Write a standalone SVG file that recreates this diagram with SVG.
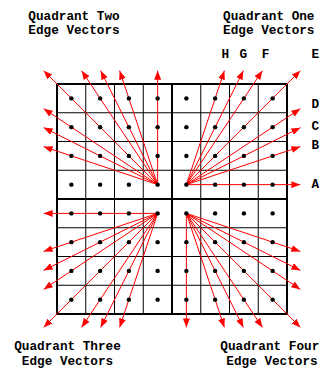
<svg xmlns="http://www.w3.org/2000/svg" width="320" height="370" viewBox="0 0 320 370">
<style>
.thin{stroke:#000;stroke-width:1;fill:none}
.thick{stroke:#000;stroke-width:2;fill:none}
.dot{fill:#000}
.vec{stroke:#ff0000;stroke-width:1;fill:none;marker-end:url(#ah)}
.lbl{font-family:"Liberation Mono","Courier New",monospace;font-weight:bold;font-size:12.7px;fill:#000;text-anchor:middle}
</style>
<defs>
<marker id="ah" markerUnits="userSpaceOnUse" markerWidth="9" markerHeight="7" refX="9" refY="3.5" orient="auto">
<path d="M0,0 L9,3.5 L0,7 z" fill="#ff0000"/>
</marker>
</defs>
<rect width="320" height="370" fill="#fff"/>
<g id="grid">
<path class="thin" d="M85.75,84V314 M114.5,84V314 M143.25,84V314 M200.75,84V314 M229.5,84V314 M258.25,84V314 M57,112.75H287 M57,141.5H287 M57,170.25H287 M57,227.75H287 M57,256.5H287 M57,285.25H287"/>
<path class="thick" d="M172,84V314 M57,199H287"/>
<rect class="thick" x="57" y="84" width="230" height="230"/>
</g>
<g id="connectors">
<g id="q1-vectors">
<line class="vec" x1="186.375" y1="184.625" x2="300.375" y2="184.625"/>
<line class="vec" x1="186.375" y1="184.625" x2="300.375" y2="146.625"/>
<line class="vec" x1="186.375" y1="184.625" x2="300.375" y2="127.625"/>
<line class="vec" x1="186.375" y1="184.625" x2="300.375" y2="108.625"/>
<line class="vec" x1="186.375" y1="184.625" x2="300.375" y2="70.625"/>
<line class="vec" x1="186.375" y1="184.625" x2="262.375" y2="70.625"/>
<line class="vec" x1="186.375" y1="184.625" x2="243.375" y2="70.625"/>
<line class="vec" x1="186.375" y1="184.625" x2="224.375" y2="70.625"/>
</g>
<g id="q2-vectors">
<line class="vec" x1="157.625" y1="184.625" x2="157.625" y2="70.625"/>
<line class="vec" x1="157.625" y1="184.625" x2="119.625" y2="70.625"/>
<line class="vec" x1="157.625" y1="184.625" x2="100.625" y2="70.625"/>
<line class="vec" x1="157.625" y1="184.625" x2="81.625" y2="70.625"/>
<line class="vec" x1="157.625" y1="184.625" x2="43.625" y2="70.625"/>
<line class="vec" x1="157.625" y1="184.625" x2="43.625" y2="108.625"/>
<line class="vec" x1="157.625" y1="184.625" x2="43.625" y2="127.625"/>
<line class="vec" x1="157.625" y1="184.625" x2="43.625" y2="146.625"/>
</g>
<g id="q3-vectors">
<line class="vec" x1="157.625" y1="213.375" x2="43.625" y2="213.375"/>
<line class="vec" x1="157.625" y1="213.375" x2="43.625" y2="251.375"/>
<line class="vec" x1="157.625" y1="213.375" x2="43.625" y2="270.375"/>
<line class="vec" x1="157.625" y1="213.375" x2="43.625" y2="289.375"/>
<line class="vec" x1="157.625" y1="213.375" x2="43.625" y2="327.375"/>
<line class="vec" x1="157.625" y1="213.375" x2="81.625" y2="327.375"/>
<line class="vec" x1="157.625" y1="213.375" x2="100.625" y2="327.375"/>
<line class="vec" x1="157.625" y1="213.375" x2="119.625" y2="327.375"/>
</g>
<g id="q4-vectors">
<line class="vec" x1="186.375" y1="213.375" x2="186.375" y2="327.375"/>
<line class="vec" x1="186.375" y1="213.375" x2="224.375" y2="327.375"/>
<line class="vec" x1="186.375" y1="213.375" x2="243.375" y2="327.375"/>
<line class="vec" x1="186.375" y1="213.375" x2="262.375" y2="327.375"/>
<line class="vec" x1="186.375" y1="213.375" x2="300.375" y2="327.375"/>
<line class="vec" x1="186.375" y1="213.375" x2="300.375" y2="289.375"/>
<line class="vec" x1="186.375" y1="213.375" x2="300.375" y2="270.375"/>
<line class="vec" x1="186.375" y1="213.375" x2="300.375" y2="251.375"/>
</g>
</g>
<g id="dots">
<g id="row1"><circle class="dot" cx="71.375" cy="98.375" r="2.2"/><circle class="dot" cx="100.125" cy="98.375" r="2.2"/><circle class="dot" cx="128.875" cy="98.375" r="2.2"/><circle class="dot" cx="157.625" cy="98.375" r="2.2"/><circle class="dot" cx="186.375" cy="98.375" r="2.2"/><circle class="dot" cx="215.125" cy="98.375" r="2.2"/><circle class="dot" cx="243.875" cy="98.375" r="2.2"/><circle class="dot" cx="272.625" cy="98.375" r="2.2"/></g>
<g id="row2"><circle class="dot" cx="71.375" cy="127.125" r="2.2"/><circle class="dot" cx="100.125" cy="127.125" r="2.2"/><circle class="dot" cx="128.875" cy="127.125" r="2.2"/><circle class="dot" cx="157.625" cy="127.125" r="2.2"/><circle class="dot" cx="186.375" cy="127.125" r="2.2"/><circle class="dot" cx="215.125" cy="127.125" r="2.2"/><circle class="dot" cx="243.875" cy="127.125" r="2.2"/><circle class="dot" cx="272.625" cy="127.125" r="2.2"/></g>
<g id="row3"><circle class="dot" cx="71.375" cy="155.875" r="2.2"/><circle class="dot" cx="100.125" cy="155.875" r="2.2"/><circle class="dot" cx="128.875" cy="155.875" r="2.2"/><circle class="dot" cx="157.625" cy="155.875" r="2.2"/><circle class="dot" cx="186.375" cy="155.875" r="2.2"/><circle class="dot" cx="215.125" cy="155.875" r="2.2"/><circle class="dot" cx="243.875" cy="155.875" r="2.2"/><circle class="dot" cx="272.625" cy="155.875" r="2.2"/></g>
<g id="row4"><circle class="dot" cx="71.375" cy="184.625" r="2.2"/><circle class="dot" cx="100.125" cy="184.625" r="2.2"/><circle class="dot" cx="128.875" cy="184.625" r="2.2"/><circle class="dot" cx="157.625" cy="184.625" r="2.2"/><circle class="dot" cx="186.375" cy="184.625" r="2.2"/><circle class="dot" cx="215.125" cy="184.625" r="2.2"/><circle class="dot" cx="243.875" cy="184.625" r="2.2"/><circle class="dot" cx="272.625" cy="184.625" r="2.2"/></g>
<g id="row5"><circle class="dot" cx="71.375" cy="213.375" r="2.2"/><circle class="dot" cx="100.125" cy="213.375" r="2.2"/><circle class="dot" cx="128.875" cy="213.375" r="2.2"/><circle class="dot" cx="157.625" cy="213.375" r="2.2"/><circle class="dot" cx="186.375" cy="213.375" r="2.2"/><circle class="dot" cx="215.125" cy="213.375" r="2.2"/><circle class="dot" cx="243.875" cy="213.375" r="2.2"/><circle class="dot" cx="272.625" cy="213.375" r="2.2"/></g>
<g id="row6"><circle class="dot" cx="71.375" cy="242.125" r="2.2"/><circle class="dot" cx="100.125" cy="242.125" r="2.2"/><circle class="dot" cx="128.875" cy="242.125" r="2.2"/><circle class="dot" cx="157.625" cy="242.125" r="2.2"/><circle class="dot" cx="186.375" cy="242.125" r="2.2"/><circle class="dot" cx="215.125" cy="242.125" r="2.2"/><circle class="dot" cx="243.875" cy="242.125" r="2.2"/><circle class="dot" cx="272.625" cy="242.125" r="2.2"/></g>
<g id="row7"><circle class="dot" cx="71.375" cy="270.875" r="2.2"/><circle class="dot" cx="100.125" cy="270.875" r="2.2"/><circle class="dot" cx="128.875" cy="270.875" r="2.2"/><circle class="dot" cx="157.625" cy="270.875" r="2.2"/><circle class="dot" cx="186.375" cy="270.875" r="2.2"/><circle class="dot" cx="215.125" cy="270.875" r="2.2"/><circle class="dot" cx="243.875" cy="270.875" r="2.2"/><circle class="dot" cx="272.625" cy="270.875" r="2.2"/></g>
<g id="row8"><circle class="dot" cx="71.375" cy="299.625" r="2.2"/><circle class="dot" cx="100.125" cy="299.625" r="2.2"/><circle class="dot" cx="128.875" cy="299.625" r="2.2"/><circle class="dot" cx="157.625" cy="299.625" r="2.2"/><circle class="dot" cx="186.375" cy="299.625" r="2.2"/><circle class="dot" cx="215.125" cy="299.625" r="2.2"/><circle class="dot" cx="243.875" cy="299.625" r="2.2"/><circle class="dot" cx="272.625" cy="299.625" r="2.2"/></g>
</g>
<g id="title-q2"><text class="lbl" x="74" y="19.7">Quadrant Two</text><text class="lbl" x="74" y="34">Edge Vectors</text></g>
<g id="title-q1"><text class="lbl" x="268.8" y="19.7">Quadrant One</text><text class="lbl" x="268.8" y="34">Edge Vectors</text></g>
<g id="title-q3"><text class="lbl" x="67.5" y="349.5">Quadrant Three</text><text class="lbl" x="67.5" y="364.5">Edge Vectors</text></g>
<g id="title-q4"><text class="lbl" x="269.8" y="349.5">Quadrant Four</text><text class="lbl" x="272" y="364.5">Edge Vectors</text></g>
<g id="vector-labels">
<text class="lbl" x="225.3" y="58.3">H</text>
<text class="lbl" x="243.3" y="58.3">G</text>
<text class="lbl" x="265.5" y="58.3">F</text>
<text class="lbl" x="315.3" y="58.3">E</text>
<text class="lbl" x="315.3" y="108">D</text>
<text class="lbl" x="315.3" y="130">C</text>
<text class="lbl" x="315.3" y="148.5">B</text>
<text class="lbl" x="315.3" y="188.3">A</text>
</g>
</svg>
